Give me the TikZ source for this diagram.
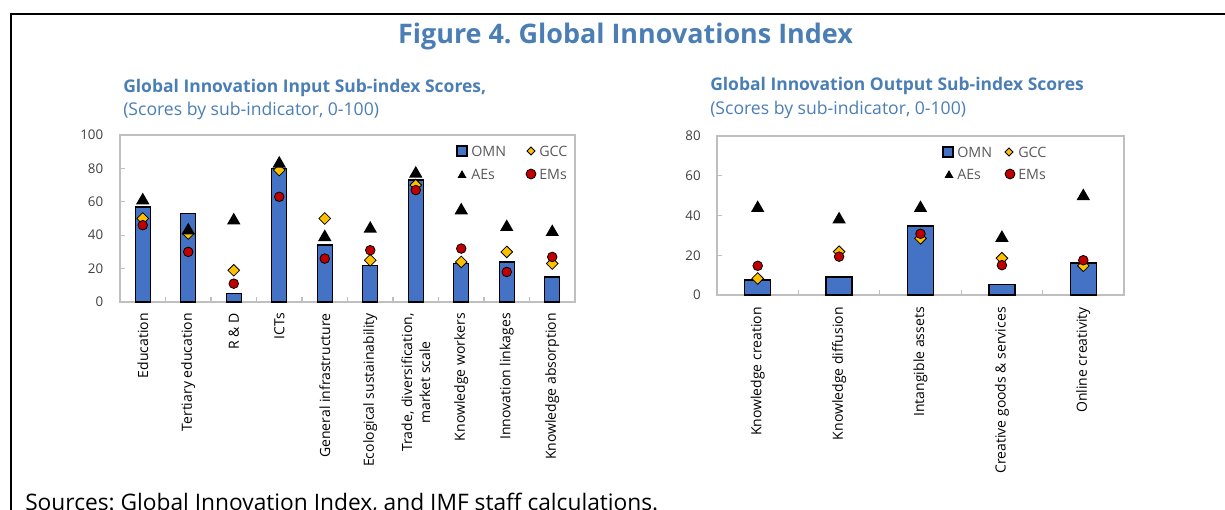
\documentclass[tikz,border=0pt]{standalone}
\usepackage{fontspec}
\setmainfont{Open Sans}
\usetikzlibrary{shapes.geometric}
\definecolor{figblue}{RGB}{74,126,181}
\definecolor{barblue}{RGB}{68,114,196}
\definecolor{gccgold}{RGB}{255,192,0}
\definecolor{emred}{RGB}{192,0,0}
\definecolor{axisgrey}{RGB}{191,191,191}
\definecolor{labelgrey}{RGB}{64,64,64}
\definecolor{leggrey}{RGB}{89,89,89}
\frenchspacing
\begin{document}
\begin{tikzpicture}[x=0.75pt,y=-0.75pt]
        \tikzstyle{bar} = [fill=barblue,draw=black,line width=1.1pt]
        \tikzstyle{plotarea} = [draw=axisgrey,line width=1pt]
        \tikzstyle{tick} = [draw=axisgrey,line width=.8pt]
        \tikzstyle{gccmark} = [diamond,draw=black,fill=gccgold,line width=.6pt,inner sep=0,minimum size=9pt]
        \tikzstyle{aesmark} = [regular polygon,regular polygon sides=3,fill=black,inner sep=0,minimum size=11.6pt,yshift=-1.45pt]
        \tikzstyle{emsmark} = [circle,draw=black,fill=emred,line width=.6pt,inner sep=0,minimum size=7.2pt]
        \tikzstyle{ticklabel} = [anchor=east,inner sep=0,text=labelgrey,font=\fontsize{10}{12}\selectfont]
        \tikzstyle{catlabel} = [rotate=90,anchor=east,align=center,inner sep=0,font=\fontsize{10.5}{13.5}\selectfont]
        \tikzstyle{legtext} = [anchor=west,inner sep=0,text=leggrey,font=\fontsize{10.7}{12}\selectfont]
        \tikzstyle{heading} = [anchor=base west,inner sep=0,text=figblue,font=\bfseries\fontsize{13.1}{15}\selectfont]
        \tikzstyle{subheading} = [anchor=base west,inner sep=0,text=figblue,font=\fontsize{13.2}{15}\selectfont]
        \useasboundingbox (0,0) rectangle (1225,510);
        % frame and titles
        \draw[line width=1.9pt] (10,14) -- (1225,14);
        \draw[line width=1.5pt] (11,13) -- (11,510);
        \node[anchor=base,text=figblue,font=\bfseries\fontsize{20.2}{24}\selectfont] (title) at (625.5,43.5) {Figure 4. Global Innovations Index};
        \node[heading] (intitle) at (123,93) {Global Innovation Input Sub-index Scores,};
        \node[subheading] (insub) at (123,116) {(Scores by sub-indicator, 0-100)};
        \node[heading] (outtitle) at (710,91) {Global Innovation Output Sub-index Scores};
        \node[subheading] (outsub) at (710,114) {(Scores by sub-indicator, 0-100)};
        \node[anchor=base west,inner sep=0,font=\fontsize{17.05}{20}\selectfont] (src) at (25,510) {Sources: Global Innovation Index, and IMF staff calculations.};
        % input sub-index
        \draw[plotarea] (120,135) rectangle (575,302);
        \foreach \k in {1,...,9} \draw[tick] ({120+45.5*\k},302) -- ++(0,-5);
        \foreach \v in {20,40,60,80} \draw[tick] (120,{302-1.67*\v}) -- ++(5,0);
        \foreach \v in {0,20,...,100} \node[ticklabel] (yin\v) at (103.5,{302-1.67*\v}) {\v};
        \foreach \i/\omn/\gcc/\aes/\ems in {0/57/50/62/46,1/53/41/44/30,2/5/19/50/11,3/80/79/84/63,4/34/50/40/26,5/22/25/45/31,6/73/70/78/67,7/23/24/56/32,8/24/30/46/18,9/15/23/43/27} {
          \draw[bar] ({120+45.5*\i+15.25},302) rectangle ({120+45.5*\i+30.25},{302-1.67*\omn});
          \node[gccmark] (gccin\i) at ({120+45.5*(\i+.5)},{302-1.67*\gcc}) {};
          \node[aesmark] (aesin\i) at ({120+45.5*(\i+.5)},{302-1.67*\aes}) {};
          \node[emsmark] (emsin\i) at ({120+45.5*(\i+.5)},{302-1.67*\ems}) {};
        }
        \foreach \i/\lab in {0/Education,1/Tertiary education,2/R \& D,3/ICTs,4/General infrastructure,5/Ecological sustainability,6/{Trade, diversification,\\market scale},7/Knowledge workers,8/Innovation linkages,9/Knowledge absorption}
          \node[catlabel] (catin\i) at ({120+45.5*(\i+.5)},313) {\lab};
        \draw[bar,line width=.8pt] (457,146) rectangle (467,156);
        \node[legtext] (legomnin) at (471,151) {OMN};
        \node[gccmark,minimum size=6.2pt] (leggccin) at (531,151) {};
        \node[legtext] (leggccin) at (539,151) {GCC};
        \node[aesmark,minimum size=7.8pt,yshift=.45pt] (legaesin) at (462,174) {};
        \node[legtext] (legaesin) at (471,174) {AEs};
        \node[emsmark,minimum size=7.4pt] (legemsin) at (531,174) {};
        \node[legtext] (legemsin) at (539,174) {EMs};
        % output sub-index
        \draw[plotarea] (717,136) rectangle (1124,295);
        \foreach \k in {1,...,4} \draw[tick] ({717+81.4*\k},295) -- ++(0,-5);
        \foreach \v in {20,40,60} \draw[tick] (717,{295-1.9875*\v}) -- ++(5,0);
        \foreach \v in {0,20,...,80} \node[ticklabel] (yout\v) at (701,{295-1.9875*\v}) {\v};
        \foreach \i/\omn/\gcc/\aes/\ems in {0/7.5/8.3/44.7/14.7,1/9/21.8/39/19.3,2/34.7/28.5/44.7/30.8,3/5.2/18.5/29.7/15,4/16/14.7/50.7/17.5} {
          \draw[bar] ({717+81.4*\i+27.7},295) rectangle ({717+81.4*\i+53.7},{295-1.9875*\omn});
          \node[gccmark] (gccout\i) at ({717+81.4*(\i+.5)},{295-1.9875*\gcc}) {};
          \node[aesmark] (aesout\i) at ({717+81.4*(\i+.5)},{295-1.9875*\aes}) {};
          \node[emsmark] (emsout\i) at ({717+81.4*(\i+.5)},{295-1.9875*\ems}) {};
        }
        \foreach \i/\lab in {0/Knowledge creation,1/Knowledge diffusion,2/Intangible assets,3/Creative goods \& services,4/Online creativity}
          \node[catlabel] (catout\i) at ({717+81.4*(\i+.5)},307) {\lab};
        \draw[bar,line width=.8pt] (943,147) rectangle (953,157);
        \node[legtext] (legomnout) at (957,152) {OMN};
        \node[gccmark,minimum size=6.2pt] (leggccout) at (1009,152) {};
        \node[legtext] (leggccout) at (1018,152) {GCC};
        \node[aesmark,minimum size=7.8pt,yshift=.45pt] (legaesout) at (949,174) {};
        \node[legtext] (legaesout) at (957,174) {AEs};
        \node[emsmark,minimum size=7.4pt] (legemsout) at (1010,174) {};
        \node[legtext] (legemsout) at (1018,174) {EMs};
\end{tikzpicture}
\end{document}
